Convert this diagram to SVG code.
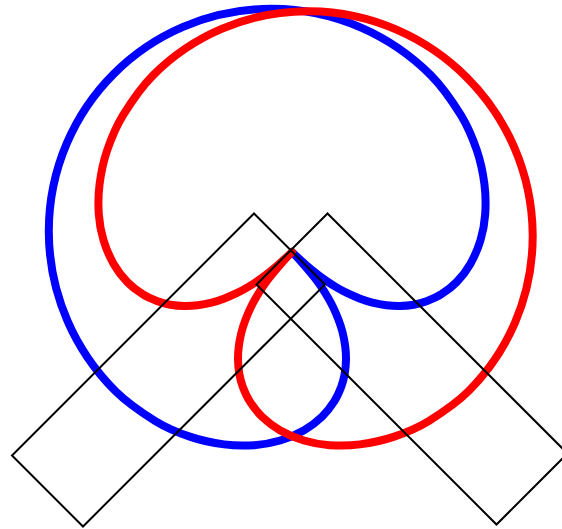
<svg xmlns="http://www.w3.org/2000/svg" width="562" height="529" viewBox="0 0 562 529">
<style>
.curve{fill:none;stroke-width:8;stroke-linejoin:round;stroke-linecap:round}
.box{fill:none;stroke:#000;stroke-width:2}
</style>
<g id="blue-curve" transform="translate(292,252) rotate(45)">
<path class="curve" stroke="#0000ff" d="M 0,0 C 6.5,0 13.93,-0.46 19.44,-0.81 C 24.95,-1.16 29,-1.617 33.06,-2.1 C 37.12,-2.583 39.81,-2.958 43.8,-3.71 C 47.79,-4.462 52.92,-5.56 57,-6.61 C 61.08,-7.66 64.27,-8.577 68.3,-10.01 C 72.33,-11.443 77.15,-13.365 81.2,-15.21 C 85.25,-17.055 88.73,-18.76 92.6,-21.08 C 96.47,-23.4 100.8,-26.337 104.4,-29.13 C 108,-31.923 111.03,-34.552 114.2,-37.84 C 117.37,-41.128 120.77,-45.12 123.4,-48.86 C 126.03,-52.6 127.98,-55.793 130,-60.28 C 132.02,-64.767 134.22,-69.977 135.5,-75.78 C 136.78,-81.583 137.85,-88.163 137.7,-95.1 C 137.55,-102.037 136.73,-109.633 134.6,-117.4 C 132.47,-125.167 129,-134.067 124.9,-141.7 C 120.8,-149.333 116.15,-156.133 110,-163.2 C 103.85,-170.267 96.5,-177.55 88,-184.1 C 79.5,-190.65 69.85,-197.15 59,-202.5 C 48.15,-207.85 37.23,-212.75 22.9,-216.2 C 6.5,-220 -10.2,-223.2 -27,-223.2 A 225,223.2 0 0 0 -252,0 A 225,223.2 0 0 0 -27,223.2 C -10.2,223.2 6.5,220 22.9,216.2 C 37.23,212.75 48.15,207.85 59,202.5 C 69.85,197.15 79.5,190.65 88,184.1 C 96.5,177.55 103.85,170.267 110,163.2 C 116.15,156.133 120.8,149.333 124.9,141.7 C 129,134.067 132.47,125.167 134.6,117.4 C 136.73,109.633 137.55,102.037 137.7,95.1 C 137.85,88.163 136.78,81.583 135.5,75.78 C 134.22,69.977 132.02,64.767 130,60.28 C 127.98,55.793 126.03,52.6 123.4,48.86 C 120.77,45.12 117.37,41.128 114.2,37.84 C 111.03,34.552 108,31.923 104.4,29.13 C 100.8,26.337 96.47,23.4 92.6,21.08 C 88.73,18.76 85.25,17.055 81.2,15.21 C 77.15,13.365 72.33,11.443 68.3,10.01 C 64.27,8.577 61.08,7.66 57,6.61 C 52.92,5.56 47.79,4.462 43.8,3.71 C 39.81,2.958 37.12,2.583 33.06,2.1 C 29,1.617 24.95,1.16 19.44,0.81 C 13.93,0.46 6.5,0 0,0 Z"/>
</g>
<g id="red-curve" transform="translate(292,252) scale(-1,1) rotate(45)">
<path class="curve" stroke="#ff0000" d="M 0,0 C 6.5,0 13.93,-0.46 19.44,-0.81 C 24.95,-1.16 29,-1.617 33.06,-2.1 C 37.12,-2.583 39.81,-2.958 43.8,-3.71 C 47.79,-4.462 52.92,-5.56 57,-6.61 C 61.08,-7.66 64.27,-8.577 68.3,-10.01 C 72.33,-11.443 77.15,-13.365 81.2,-15.21 C 85.25,-17.055 88.73,-18.76 92.6,-21.08 C 96.47,-23.4 100.8,-26.337 104.4,-29.13 C 108,-31.923 111.03,-34.552 114.2,-37.84 C 117.37,-41.128 120.77,-45.12 123.4,-48.86 C 126.03,-52.6 127.98,-55.793 130,-60.28 C 132.02,-64.767 134.22,-69.977 135.5,-75.78 C 136.78,-81.583 137.85,-88.163 137.7,-95.1 C 137.55,-102.037 136.73,-109.633 134.6,-117.4 C 132.47,-125.167 129,-134.067 124.9,-141.7 C 120.8,-149.333 116.15,-156.133 110,-163.2 C 103.85,-170.267 96.5,-177.55 88,-184.1 C 79.5,-190.65 69.85,-197.15 59,-202.5 C 48.15,-207.85 37.23,-212.75 22.9,-216.2 C 6.5,-220 -10.2,-223.2 -27,-223.2 A 220,223.2 0 0 0 -247,0 A 220,223.2 0 0 0 -27,223.2 C -10.2,223.2 6.5,220 22.9,216.2 C 37.23,212.75 48.15,207.85 59,202.5 C 69.85,197.15 79.5,190.65 88,184.1 C 96.5,177.55 103.85,170.267 110,163.2 C 116.15,156.133 120.8,149.333 124.9,141.7 C 129,134.067 132.47,125.167 134.6,117.4 C 136.73,109.633 137.55,102.037 137.7,95.1 C 137.85,88.163 136.78,81.583 135.5,75.78 C 134.22,69.977 132.02,64.767 130,60.28 C 127.98,55.793 126.03,52.6 123.4,48.86 C 120.77,45.12 117.37,41.128 114.2,37.84 C 111.03,34.552 108,31.923 104.4,29.13 C 100.8,26.337 96.47,23.4 92.6,21.08 C 88.73,18.76 85.25,17.055 81.2,15.21 C 77.15,13.365 72.33,11.443 68.3,10.01 C 64.27,8.577 61.08,7.66 57,6.61 C 52.92,5.56 47.79,4.462 43.8,3.71 C 39.81,2.958 37.12,2.583 33.06,2.1 C 29,1.617 24.95,1.16 19.44,0.81 C 13.93,0.46 6.5,0 0,0 Z"/>
</g>
<g id="left-rect">
<polygon class="box" points="254,213.5 325,284.5 83,526.5 12,455.5"/>
</g>
<g id="right-rect">
<polygon class="box" points="327.5,213.5 256.5,284.5 496.5,524.5 567.5,453.5"/>
</g>
</svg>
